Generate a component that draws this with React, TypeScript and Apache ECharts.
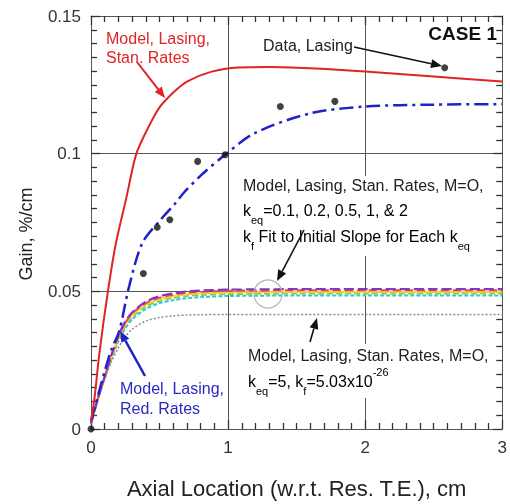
import { useEffect, useRef } from "react";
import * as echarts from "echarts";

const FONT = "'Liberation Sans', Arial, Helvetica, sans-serif";

// Data, Lasing (black dots)
const dataX = [0, 0.382, 0.483, 0.575, 0.778, 0.978, 1.381, 1.779, 2.58];
const dataY = [0, 0.0565, 0.0733, 0.076, 0.0972, 0.0996, 0.1171, 0.119, 0.1312];

// Model, Lasing, Stan. Rates (red solid)
const stanX = [0, 0.025, 0.06, 0.122, 0.18, 0.255, 0.331, 0.423, 0.5, 0.6, 0.7, 0.88, 1.075, 1.3, 1.6, 2.0, 2.5, 3.0];
const stanY = [0.003, 0.011, 0.027, 0.0495, 0.067, 0.0833, 0.1, 0.11, 0.1168, 0.1222, 0.1262, 0.1298, 0.1313, 0.1315, 0.131, 0.1298, 0.128, 0.1262];

// Model, Lasing, Red. Rates (blue dash-dot)
const redRatesX = [0, 0.05, 0.1, 0.15, 0.206, 0.279, 0.375, 0.508, 0.616, 0.677, 0.8, 0.978, 1.195, 1.605, 2.0, 2.5, 3.0];
const redRatesY = [0.003, 0.012, 0.021, 0.029, 0.0356, 0.052, 0.0676, 0.076, 0.082, 0.0858, 0.092, 0.0996, 0.1075, 0.1147, 0.1171, 0.1178, 0.118];

// Model, Lasing, Stan. Rates, M=O family
const famX = [0, 0.05, 0.1, 0.15, 0.2, 0.25, 0.3, 0.4, 0.5, 0.6, 0.7, 0.8, 1.0, 1.2, 1.5, 2.0, 2.5, 3.0];
const keq01 = [0.002, 0.011, 0.019, 0.027, 0.034, 0.039, 0.0423, 0.0462, 0.0482, 0.0493, 0.0499, 0.0503, 0.0506, 0.0507, 0.0508, 0.0508, 0.0508, 0.0508];
const keq02 = [0.002, 0.011, 0.019, 0.027, 0.0335, 0.0385, 0.042, 0.0457, 0.0477, 0.0488, 0.0495, 0.0498, 0.0502, 0.0503, 0.0504, 0.0504, 0.0504, 0.0504];
const keq05 = [0.002, 0.011, 0.019, 0.0265, 0.033, 0.038, 0.0414, 0.0451, 0.0471, 0.0482, 0.0489, 0.0493, 0.0496, 0.0497, 0.0498, 0.0498, 0.0498, 0.0498];
const keq1 = [0.002, 0.011, 0.0188, 0.026, 0.0325, 0.0373, 0.0407, 0.0445, 0.0465, 0.0476, 0.0483, 0.0487, 0.049, 0.0491, 0.0492, 0.0492, 0.0492, 0.0492];
const keq2 = [0.002, 0.0108, 0.0185, 0.0255, 0.0318, 0.0365, 0.0398, 0.0436, 0.0457, 0.0468, 0.0475, 0.0479, 0.0483, 0.0484, 0.0485, 0.0485, 0.0485, 0.0485];
const keq5 = [0.002, 0.0105, 0.018, 0.0245, 0.0295, 0.0335, 0.0362, 0.0392, 0.0405, 0.0411, 0.0414, 0.0415, 0.0416, 0.0416, 0.0416, 0.0416, 0.0416, 0.0416];

const xTicks = { min: 0, max: 3, interval: 1 };
const yTicks = { min: 0, max: 0.15, interval: 0.05 };

const zip = (xs: number[], ys: number[]) => xs.map((x, i) => [x, ys[i]]);

function arrow(x1: number, y1: number, x2: number, y2: number, color: string, width: number) {
  const a = Math.atan2(y2 - y1, x2 - x1);
  const L = 11, W = 4.5;
  const bx = x2 - L * Math.cos(a), by = y2 - L * Math.sin(a);
  const s = Math.sin(a), c = Math.cos(a);
  return [
    { type: "line", z: 120, shape: { x1, y1, x2: bx, y2: by }, style: { stroke: color, lineWidth: width } },
    {
      type: "polygon", z: 120,
      shape: { points: [[x2, y2], [bx + W * s, by - W * c], [bx - W * s, by + W * c]] },
      style: { fill: color },
    },
  ];
}

const rich = {
  n: { fontSize: 16, lineHeight: 30, fontFamily: FONT, color: "#222", verticalAlign: "middle" },
  s: { fontSize: 11, fontFamily: FONT, color: "#222", verticalAlign: "bottom" },
  p: { fontSize: 11, fontFamily: FONT, color: "#222", verticalAlign: "top" },
};

function txt(x: number, y: number, text: string, color = "#222") {
  return {
    type: "text", z: 110, x, y,
    style: { text, fill: color, font: `16px ${FONT}`, verticalAlign: "middle" },
  };
}

function richTxt(x: number, y: number, text: string) {
  return {
    type: "text", z: 110, x, y,
    style: { text, rich, verticalAlign: "middle", align: "left" },
  };
}

export default function App() {
  const ref = useRef<HTMLDivElement>(null);
  useEffect(() => {
    if (!ref.current) return;
    const chart = echarts.init(ref.current, null, { renderer: "svg" });
    const lineCol = "#555";
    const mkAxis = (extra: any) => ({
      type: "value",
      axisLine: { show: true, onZero: false, lineStyle: { color: lineCol, width: 1 } },
      axisTick: { show: true, inside: true, length: 9, lineStyle: { color: "#333", width: 1.3 } },
      minorTick: { show: true, splitNumber: 10, length: 6, lineStyle: { color: "#333", width: 1.3 } },
      splitLine: { show: false },
      axisLabel: { show: false },
      ...extra,
    });
    const option: any = {
      animation: false,
      grid: { left: 91, right: 4, top: 16, bottom: 74 },
      xAxis: [
        mkAxis({
          ...xTicks, position: "bottom",
          splitLine: { show: true, lineStyle: { color: lineCol, width: 1 } },
          axisLabel: { show: true, fontSize: 17, color: "#333", margin: 10, fontFamily: FONT },
          name: "Axial Location (w.r.t. Res. T.E.), cm",
          nameLocation: "middle", nameGap: 48,
          nameTextStyle: { fontSize: 22, color: "#222", fontFamily: FONT },
        }),
        mkAxis({ ...xTicks, position: "top" }),
      ],
      yAxis: [
        mkAxis({
          ...yTicks, position: "left",
          splitLine: { show: true, lineStyle: { color: lineCol, width: 1 } },
          axisLabel: { show: true, fontSize: 17, color: "#333", margin: 10, fontFamily: FONT },
        }),
        mkAxis({ ...yTicks, position: "right" }),
      ],
      series: [
        { name: "keq=5", type: "line", data: zip(famX, keq5), showSymbol: false, smooth: 0.3, lineStyle: { color: "#8a8a8a", width: 1.5, type: [2, 2] } },
        { name: "keq=2", type: "line", data: zip(famX, keq2), showSymbol: false, smooth: 0.3, lineStyle: { color: "#33c6d6", width: 2, type: [4, 2] } },
        { name: "keq=1", type: "line", data: zip(famX, keq1), showSymbol: false, smooth: 0.3, lineStyle: { color: "#7ccf5a", width: 2, type: [6, 3] } },
        { name: "keq=0.5", type: "line", data: zip(famX, keq05), showSymbol: false, smooth: 0.3, lineStyle: { color: "#f3d42a", width: 2, type: "solid" } },
        { name: "keq=0.2", type: "line", data: zip(famX, keq02), showSymbol: false, smooth: 0.3, lineStyle: { color: "#e0504a", width: 2, type: [8, 4] } },
        { name: "keq=0.1", type: "line", data: zip(famX, keq01), showSymbol: false, smooth: 0.3, lineStyle: { color: "#8d2fc8", width: 2.2, type: [10, 4] } },
        { name: "Model, Lasing, Red. Rates", type: "line", data: zip(redRatesX, redRatesY), showSymbol: false, smooth: 0.3, lineStyle: { color: "#1f22c8", width: 2.5, type: [14, 5, 3, 5] } },
        { name: "Model, Lasing, Stan. Rates", type: "line", data: zip(stanX, stanY), showSymbol: false, smooth: 0.3, lineStyle: { color: "#e02424", width: 2 } },
        { name: "Data, Lasing", type: "scatter", data: zip(dataX, dataY), symbol: "circle", symbolSize: 7, clip: false, z: 10, itemStyle: { color: "#111" } },
      ],
      graphic: {
        elements: [
          {
            type: "text", z: 110, x: 26, y: 234, rotation: Math.PI / 2,
            style: { text: "Gain, %/cm", font: `18px ${FONT}`, fill: "#222", align: "center", verticalAlign: "middle" },
          },
          { type: "rect", z: 105, shape: { x: 240, y: 176, width: 255, height: 80 }, style: { fill: "#fff" } },
          { type: "rect", z: 105, shape: { x: 245, y: 344, width: 250, height: 54 }, style: { fill: "#fff" } },
          txt(106, 38, "Model, Lasing,", "#e02424"),
          txt(106, 57, "Stan. Rates", "#e02424"),
          {
            type: "text", z: 110, x: 497, y: 33,
            style: { text: "CASE 1", font: `bold 19px ${FONT}`, fill: "#111", align: "right", verticalAlign: "middle" },
          },
          txt(263, 45, "Data, Lasing"),
          txt(243, 185, "Model, Lasing, Stan. Rates, M=O,"),
          richTxt(243, 210, "{n|k}{s|eq}{n|=0.1, 0.2, 0.5, 1, & 2}"),
          richTxt(243, 236, "{n|k}{s|f}{n| Fit to Initial Slope for Each k}{s|eq}"),
          txt(248, 355, "Model, Lasing, Stan. Rates, M=O,"),
          richTxt(248, 381, "{n|k}{s|eq}{n|=5, k}{s|f}{n|=5.03x10}{p|-26}"),
          txt(120, 388, "Model, Lasing,", "#2a2ac0"),
          txt(120, 408, "Red. Rates", "#2a2ac0"),
          { type: "circle", z: 115, shape: { cx: 268, cy: 294, r: 14 }, style: { fill: "none", stroke: "#b5b5b5", lineWidth: 1.2 } },
          ...arrow(137, 62, 165, 98, "#e02424", 2),
          ...arrow(354, 47, 442, 66, "#111", 1.6),
          ...arrow(304, 230, 277, 281, "#111", 1.6),
          ...arrow(310, 342, 317, 318, "#111", 1.6),
          ...arrow(145, 376, 120, 331, "#1f22c8", 2.5),
        ],
      },
    };
    chart.setOption(option);
    return () => chart.dispose();
  }, []);
  return <div ref={ref} style={{ position: "fixed", left: 0, top: 0, width: 510, height: 504 }} />;
}
